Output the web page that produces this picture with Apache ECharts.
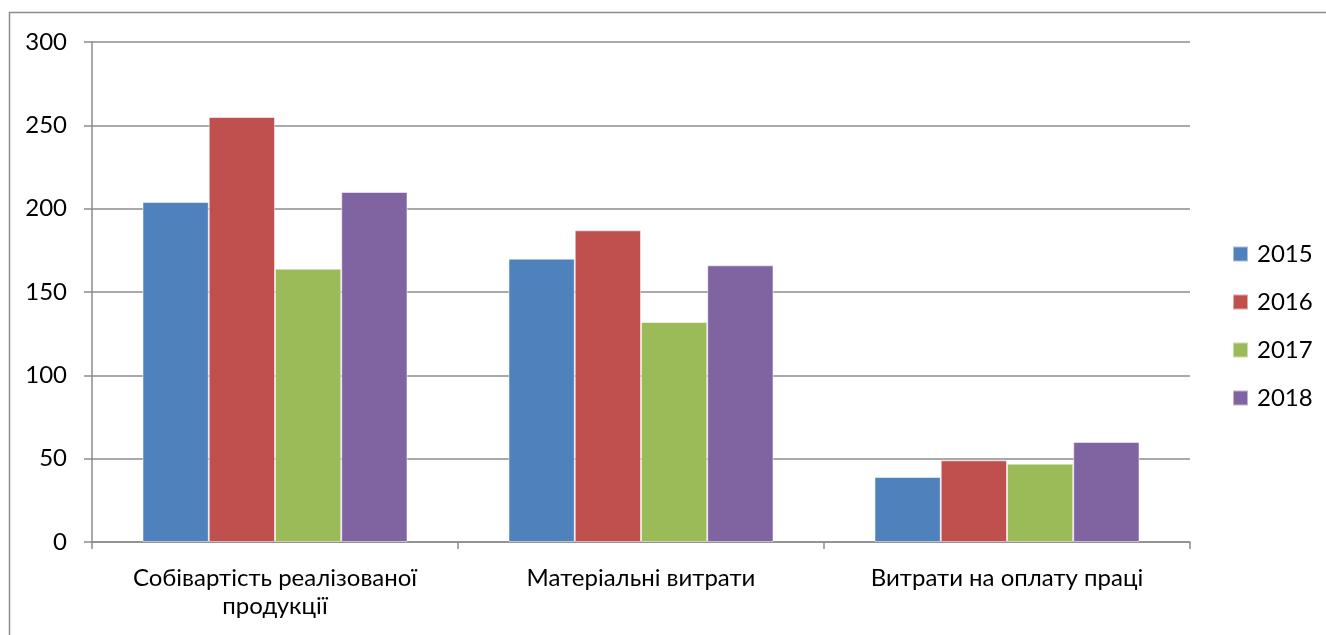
<!DOCTYPE html>
<html>
<head>
<meta charset="utf-8">
<script src="https://cdn.jsdelivr.net/npm/echarts@6/dist/echarts.min.js"></script>
<style>
  html, body { margin: 0; padding: 0; background: #fff; }
  #chart { width: 1326px; height: 635px; }
</style>
</head>
<body>
<div id="chart"></div>
<script>
// Cost structure by year
const categories = ['Собівартість реалізованої\nпродукції', 'Матеріальні витрати', 'Витрати на оплату праці'];
const years = ['2015', '2016', '2017', '2018'];
const values2015 = [204, 170, 39];
const values2016 = [255, 187, 49];
const values2017 = [164, 132, 47];
const values2018 = [210, 166, 60];
const yTicks = { min: 0, max: 300, interval: 50 };

const colors = ['#4F81BD', '#C0504D', '#9BBB59', '#8064A2'];
const seriesValues = [values2015, values2016, values2017, values2018];
const fontFamily = 'Lato, "Open Sans", sans-serif';
const fontSize = 24;

const chart = echarts.init(document.getElementById('chart'), null, { renderer: 'canvas' });

chart.setOption({
  animation: false,
  backgroundColor: '#fff',
  color: colors,
  textStyle: { fontFamily: fontFamily },
  graphic: [{
    type: 'rect',
    shape: { x: 9.5, y: 12.5, width: 1400, height: 700 },
    style: { fill: 'none', stroke: '#8c8c8c', lineWidth: 1.5 },
    silent: true,
    z: -10
  }],
  grid: { left: 92, right: 136, top: 42, bottom: 93, containLabel: false },
  legend: {
    orient: 'vertical',
    left: 1227,
    top: 237,
    itemWidth: 15,
    itemHeight: 15,
    itemGap: 24,
    icon: 'rect',
    textStyle: { fontSize: fontSize, color: '#000', fontFamily: fontFamily, padding: [0, 0, 0, 4] },
    data: years
  },
  xAxis: {
    type: 'category',
    data: categories,
    axisLine: { show: true, lineStyle: { color: '#8c8c8c', width: 1.5 } },
    axisTick: { show: true, length: 7, lineStyle: { color: '#8c8c8c', width: 1.5 } },
    axisLabel: {
      interval: 0,
      hideOverlap: false,
      fontSize: fontSize,
      color: '#000',
      margin: 22,
      lineHeight: 28,
      fontFamily: fontFamily
    }
  },
  yAxis: {
    type: 'value',
    min: yTicks.min,
    max: yTicks.max,
    interval: yTicks.interval,
    axisLine: { show: true, lineStyle: { color: '#8c8c8c', width: 1.5 } },
    axisTick: { show: true, length: 8, lineStyle: { color: '#8c8c8c', width: 1.5 } },
    splitLine: { show: true, lineStyle: { color: '#8c8c8c', width: 1.5 } },
    axisLabel: { fontSize: fontSize, color: '#000', margin: 25, fontFamily: fontFamily }
  },
  series: years.map((y, i) => ({
    name: y,
    type: 'bar',
    data: seriesValues[i],
    barGap: '0%',
    barCategoryGap: '27.6%',
    itemStyle: { color: colors[i], borderColor: 'rgba(255,255,255,0.5)', borderWidth: 1 }
  }))
});
</script>
</body>
</html>
